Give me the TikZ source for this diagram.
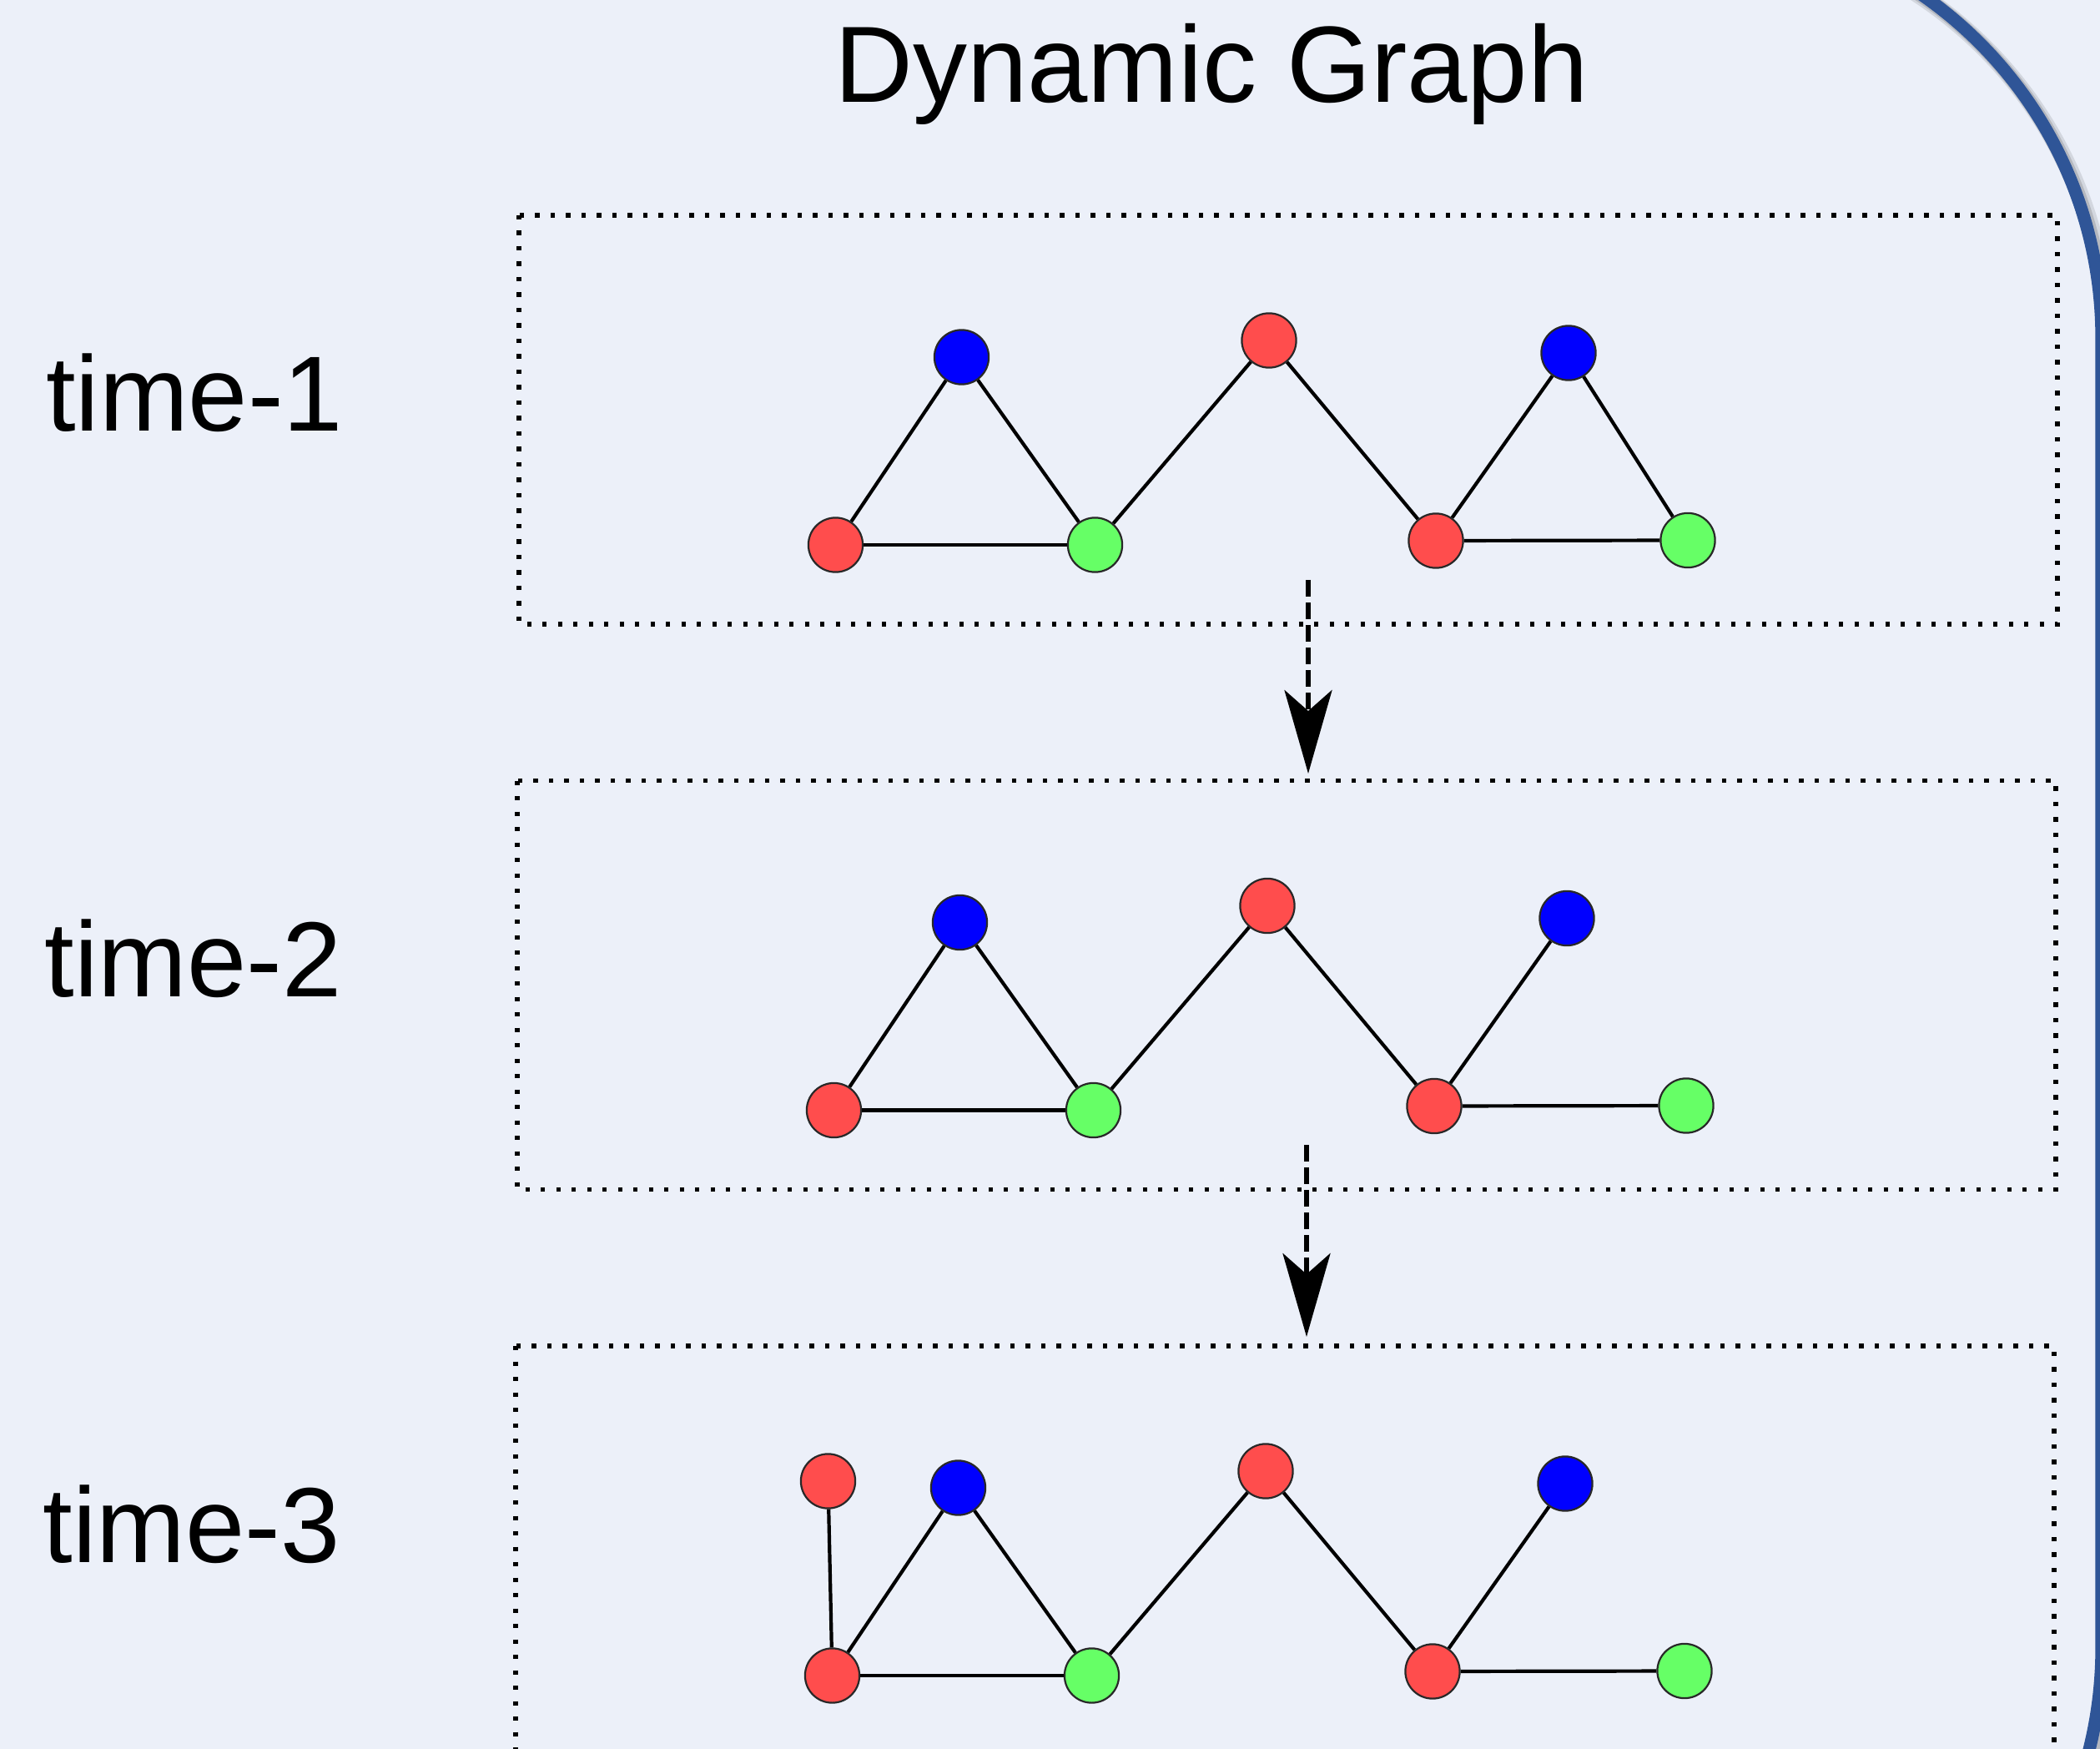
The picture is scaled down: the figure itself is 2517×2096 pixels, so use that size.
\documentclass[tikz,border=0pt]{standalone}
\usepackage{fontspec}
\setmainfont{Liberation Sans}
\usetikzlibrary{arrows.meta}
\definecolor{bgc}{RGB}{236,240,249}
\definecolor{frameblue}{RGB}{47,85,151}
\definecolor{nred}{RGB}{255,77,77}
\definecolor{ngreen}{RGB}{102,255,102}
\definecolor{nblue}{RGB}{0,0,255}
\definecolor{nborder}{RGB}{40,40,40}
\tikzset{
  basenode/.style={circle, draw=nborder, line width=0.55pt, minimum size=16.3pt, inner sep=0pt},
  rednode/.style={basenode, fill=nred},
  bluenode/.style={basenode, fill=nblue},
  greennode/.style={basenode, fill=ngreen},
  glink/.style={line width=1.05pt, black},
  dotbox/.style={line width=1.3pt, dash pattern=on 1.3pt off 3.325pt},
  flowarrow/.style={line width=1.4pt, dash pattern=on 5pt off 1.75pt,
    -{Stealth[length=25pt, width=14.25pt, inset=6.25pt]}},
  timelabel/.style={font=\fontsize{32}{38}\selectfont, inner sep=0pt, anchor=base west},
  titlelabel/.style={font=\fontsize{32.5}{39}\selectfont, inner sep=0pt, anchor=base}
}
\begin{document}
\begin{tikzpicture}[x=0.25pt, y=-0.25pt]
\useasboundingbox (0,0) rectangle (2517,2096);
\fill[bgc] (0,0) rectangle (2517,2096);
\begin{scope}
  \clip (0,0) rectangle (2517,2096);
  \draw[black, opacity=0.10, line width=5.5pt, rounded corners=125pt, shift={(6,6)}] (-600,-95) rectangle (2519,2475);
  \draw[black, opacity=0.14, line width=4.5pt, rounded corners=125pt, shift={(3,3)}] (-600,-95) rectangle (2519,2475);
  \draw[frameblue, line width=3.8pt, rounded corners=125pt] (-600,-95) rectangle (2519,2475);
\end{scope}

\node[titlelabel] (title) at (1452,123) {Dynamic Graph};

\node[timelabel] (lab1) at (54.5,517) {time-1};
\node[timelabel] (lab2) at (53,1194.5) {time-2};
\node[timelabel] (lab3) at (51,1872) {time-3};

\draw[dotbox] (622,258) rectangle (2466,748);
\draw[dotbox] (620,935.5) rectangle (2464,1425.5);
\draw[dotbox] (618,1613) rectangle (2462,2103);

% panel 1
\begin{scope}
  \node[bluenode] (p1b1) at (1152.5,428) {};
  \node[rednode] (p1rt) at (1521,408) {};
  \node[bluenode] (p1b2) at (1880,423) {};
  \node[rednode] (p1rl) at (1001.5,653) {};
  \node[greennode] (p1g1) at (1312.5,653) {};
  \node[rednode] (p1r2) at (1721,648) {};
  \node[greennode] (p1g2) at (2023,647.5) {};
  \draw[glink] (p1rl) -- (p1b1);
  \draw[glink] (p1b1) -- (p1g1);
  \draw[glink] (p1rl) -- (p1g1);
  \draw[glink] (p1g1) -- (p1rt);
  \draw[glink] (p1rt) -- (p1r2);
  \draw[glink] (p1r2) -- (p1b2);
  \draw[glink] (p1b2) -- (p1g2);
  \draw[glink] (p1r2) -- (p1g2);
\end{scope}

% panel 2
\begin{scope}[shift={(-2,677.5)}]
  \node[bluenode] (p2b1) at (1152.5,428) {};
  \node[rednode] (p2rt) at (1521,408) {};
  \node[bluenode] (p2b2) at (1880,423) {};
  \node[rednode] (p2rl) at (1001.5,653) {};
  \node[greennode] (p2g1) at (1312.5,653) {};
  \node[rednode] (p2r2) at (1721,648) {};
  \node[greennode] (p2g2) at (2023,647.5) {};
  \draw[glink] (p2rl) -- (p2b1);
  \draw[glink] (p2b1) -- (p2g1);
  \draw[glink] (p2rl) -- (p2g1);
  \draw[glink] (p2g1) -- (p2rt);
  \draw[glink] (p2rt) -- (p2r2);
  \draw[glink] (p2r2) -- (p2b2);
  \draw[glink] (p2r2) -- (p2g2);
\end{scope}

% panel 3
\begin{scope}[shift={(-4,1355)}]
  \node[rednode] (p3rx) at (996.5,420) {};
  \node[bluenode] (p3b1) at (1152.5,428) {};
  \node[rednode] (p3rt) at (1521,408) {};
  \node[bluenode] (p3b2) at (1880,423) {};
  \node[rednode] (p3rl) at (1001.5,653) {};
  \node[greennode] (p3g1) at (1312.5,653) {};
  \node[rednode] (p3r2) at (1721,648) {};
  \node[greennode] (p3g2) at (2023,647.5) {};
  \draw[glink] (p3rx) -- (p3rl);
  \draw[glink] (p3rl) -- (p3b1);
  \draw[glink] (p3b1) -- (p3g1);
  \draw[glink] (p3rl) -- (p3g1);
  \draw[glink] (p3g1) -- (p3rt);
  \draw[glink] (p3rt) -- (p3r2);
  \draw[glink] (p3r2) -- (p3b2);
  \draw[glink] (p3r2) -- (p3g2);
\end{scope}

% transitions
\coordinate (a1s) at (1568,695);
\coordinate (a1e) at (1568,927);
\coordinate (a2s) at (1566,1372);
\coordinate (a2e) at (1566,1602);
\draw[flowarrow] (a1s) -- (a1e);
\draw[flowarrow] (a2s) -- (a2e);
\end{tikzpicture}
\end{document}
